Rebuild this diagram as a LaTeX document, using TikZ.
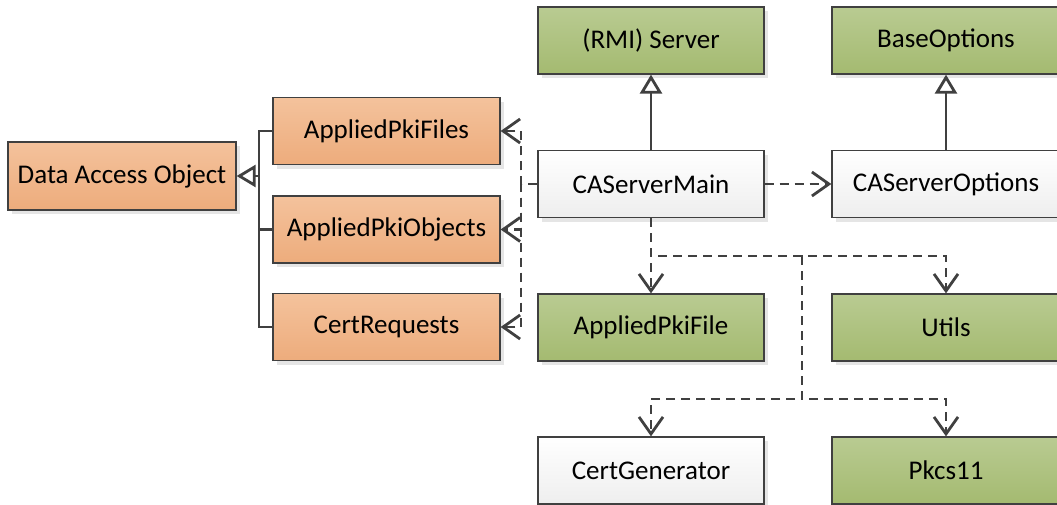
\documentclass[tikz,border=0pt]{standalone}
\usepackage{fontspec}
\setmainfont{Carlito}
\usetikzlibrary{arrows.meta,shadows}

\definecolor{edge}{HTML}{404040}
\definecolor{orangeTop}{HTML}{F4C29C}
\definecolor{orangeBot}{HTML}{EDAC7C}
\definecolor{greenTop}{HTML}{B9CB92}
\definecolor{greenBot}{HTML}{A4BA70}
\definecolor{whiteBot}{HTML}{EEEEEE}

\tikzset{
  cls/.style={rectangle, draw=edge, line width=1.3pt, inner sep=0pt,
    minimum width=226pt, minimum height=67pt,
    font=\fontsize{27}{32}\selectfont,
    general shadow={shadow xshift=4pt, shadow yshift=-4pt, fill=black!10, draw=none}},
  daoclass/.style={cls, top color=orangeTop, bottom color=orangeBot},
  libclass/.style={cls, top color=greenTop, bottom color=greenBot},
  ownclass/.style={cls, top color=white, bottom color=whiteBot},
  link/.style={draw=edge, line width=2.8pt},
  inherit/.style={link, -{Triangle[open, length=19pt, width=22pt, fill=white]}},
  dep/.style={link, dash pattern=on 9pt off 6pt, -{Straight Barb[length=17pt, width=24pt]}}
}

\begin{document}
\begin{tikzpicture}[x=1pt, y=-1pt]
\useasboundingbox (0,0) rectangle (1057,504);

% data access classes
\node[daoclass, minimum width=228pt, minimum height=68pt] (dao) at (122,176) {Data Access Object};
\node[daoclass, minimum width=227pt] (apf) at (386.5,131) {AppliedPkiFiles};
\node[daoclass, minimum width=227pt] (apo) at (386.5,229.5) {AppliedPkiObjects};
\node[daoclass, minimum width=227pt] (cr)  at (386.5,327) {CertRequests};

% server side classes
\node[libclass] (rmi)  at (651,40.5)  {(RMI) Server};
\node[libclass, minimum width=228pt] (base) at (946,40.5) {BaseOptions};
\node[ownclass] (main) at (651,184)   {CAServerMain};
\node[ownclass, minimum width=228pt] (opts) at (946,184) {CAServerOptions};
\node[libclass] (apkf) at (651,327.5) {AppliedPkiFile};
\node[libclass, minimum width=228pt] (utils) at (946,327.5) {Utils};
\node[ownclass] (cg)   at (651,470.5) {CertGenerator};
\node[libclass, minimum width=228pt] (pk) at (946,470.5) {Pkcs11};

% junction points
\coordinate (trunk) at (259,0);
\coordinate (bus) at (521,0);
\coordinate (mid) at (802,256);

% generalisation of the data access classes
\draw[link] (apf.west) -| (trunk |- cr.west) -- (cr.west);
\draw[link] (apo.west) -- (trunk |- apo.west);
\draw[inherit] (trunk |- dao.east) -- (dao.east);

% CAServerMain uses the data access classes
\draw[dep] (main.west) -- (bus |- main.west) |- (apf.east);
\draw[dep] (main.west) -- (bus |- main.west) |- (apo.east);
\draw[dep] (main.west) -- (bus |- main.west) |- (cr.east);

% inheritance
\draw[inherit] (main.north) -- (rmi.south);
\draw[inherit] (opts.north) -- (base.south);

% dependencies
\draw[dep] (main.east) -- (opts.west);
\draw[dep] (main.south) -- (apkf.north);
\draw[dep] (main.south) |- (mid) -| (utils.north);
\draw[dep] (mid) -- ++(0,143) -| (cg.north);
\draw[dep] (mid) -- ++(0,143) -| (pk.north);
\end{tikzpicture}
\end{document}
